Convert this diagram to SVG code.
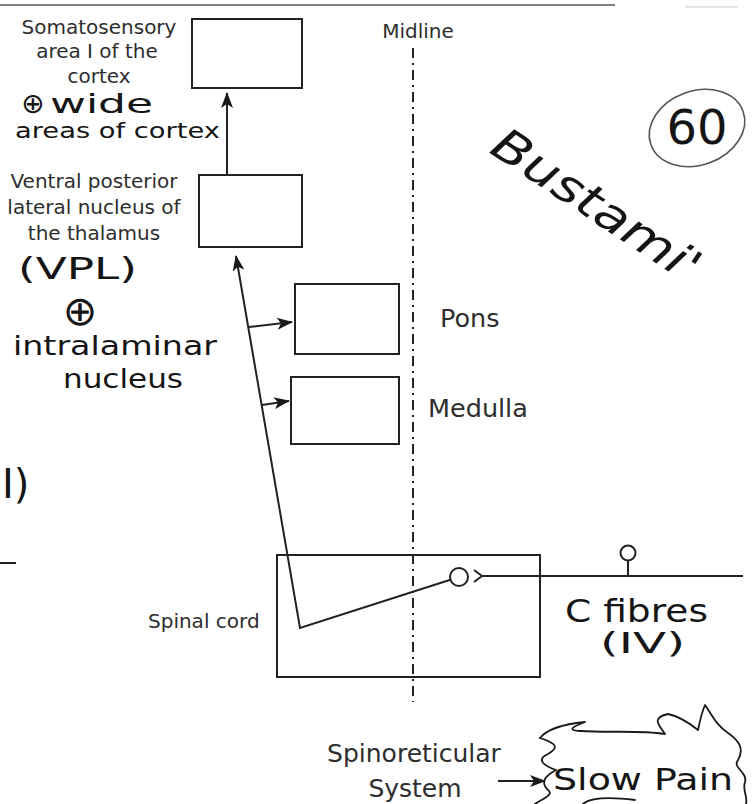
<svg xmlns="http://www.w3.org/2000/svg" width="755" height="804" viewBox="0 0 755 804">
<defs>
<style>
.box{fill:none;stroke:#222;stroke-width:2}
.ln{fill:none;stroke:#222;stroke-width:2}
.lbl{font-family:"DejaVu Sans","Liberation Sans",sans-serif;fill:#2e2e2e;font-size:20px}
.big{font-size:25.5px}
.sr{font-size:25px}
.hw{font-family:"DejaVu Sans","Liberation Sans",sans-serif;fill:#151515;font-weight:normal}
.hwl{fill:none;stroke:#1a1a1a;stroke-width:1.8;stroke-linecap:round;stroke-linejoin:round}
</style>
<marker id="ah" markerUnits="userSpaceOnUse" markerWidth="16" markerHeight="12" refX="15" refY="6" orient="auto">
<path d="M0,0 L16,6 L0,12 L4,6 z" fill="#1a1a1a"/>
</marker>
</defs>
<rect width="755" height="804" fill="#fff"/>

<!-- page edge lines -->
<line x1="0" y1="5" x2="615" y2="5" stroke="#555" stroke-width="1.6"/>
<line x1="685" y1="7" x2="738" y2="7" stroke="#ccc" stroke-width="1.2"/>
<line x1="0" y1="563" x2="16" y2="563" stroke="#222" stroke-width="2"/>

<!-- midline -->
<g id="midline">
<line x1="413" y1="48" x2="413" y2="702" stroke="#222" stroke-width="2" stroke-dasharray="10 5 2 5"/>
<text class="lbl" x="418" y="38" text-anchor="middle">Midline</text>
</g>

<g id="cortex">
<rect class="box" x="192" y="19" width="110" height="69"/>
<text class="lbl" text-anchor="middle"><tspan x="99" y="34">Somatosensory</tspan><tspan x="97" y="58">area I of the</tspan><tspan x="99" y="83">cortex</tspan></text>
</g>

<g id="vpl">
<rect class="box" x="199" y="175" width="103" height="72"/>
<text class="lbl" text-anchor="middle"><tspan x="94" y="188">Ventral posterior</tspan><tspan x="94" y="214">lateral nucleus of</tspan><tspan x="94" y="240">the thalamus</tspan></text>
</g>

<g id="pons">
<rect class="box" x="295" y="284" width="104" height="70"/>
<text class="lbl big" x="440" y="327">Pons</text>
</g>

<g id="medulla">
<rect class="box" x="291" y="377" width="108" height="67"/>
<text class="lbl big" x="428" y="417">Medulla</text>
</g>

<g id="spinalcord">
<rect class="box" x="277" y="555" width="263" height="122"/>
<text class="lbl" x="148" y="628">Spinal cord</text>
</g>

<g id="cfibre">
<circle cx="459" cy="577" r="9" fill="none" stroke="#222" stroke-width="2"/>
<path class="ln" d="M474,570 L482,576 L474,582"/>
<line class="ln" x1="482" y1="576" x2="743" y2="576"/>
<circle cx="628" cy="553" r="7.5" fill="none" stroke="#222" stroke-width="2"/>
<line class="ln" x1="628" y1="560.5" x2="628" y2="576"/>
</g>

<g id="connectors">
<line class="ln" x1="227" y1="175" x2="227" y2="93" marker-end="url(#ah)"/>
<polyline class="ln" points="450.4,579.7 300,628 236,256" marker-end="url(#ah)"/>
<line class="ln" x1="249" y1="327" x2="292" y2="322" marker-end="url(#ah)"/>
<line class="ln" x1="262" y1="405" x2="289" y2="401" marker-end="url(#ah)"/>
<line class="ln" x1="498" y1="781" x2="545" y2="781" marker-end="url(#ah)"/>
</g>

<g id="spinoreticular">
<text class="lbl sr" text-anchor="middle"><tspan x="414" y="762">Spinoreticular</tspan><tspan x="415" y="797">System</tspan></text>
</g>

<!-- handwritten notes -->
<g id="notes">
<text class="hw" y="113"><tspan x="21" font-size="28">⊕</tspan><tspan x="50" font-size="26" textLength="103" lengthAdjust="spacingAndGlyphs">wide</tspan></text>
<text class="hw" x="15" y="138" font-size="22" textLength="205" lengthAdjust="spacingAndGlyphs">areas of cortex</text>
<text class="hw" x="18" y="279" font-size="30" textLength="119" lengthAdjust="spacingAndGlyphs">(VPL)</text>
<text class="hw" x="80" y="325" font-size="41" text-anchor="middle">⊕</text>
<text class="hw" x="13" y="355" font-size="26" textLength="204" lengthAdjust="spacingAndGlyphs">intralaminar</text>
<text class="hw" x="63" y="388" font-size="26" textLength="120" lengthAdjust="spacingAndGlyphs">nucleus</text>
<text class="hw" x="2" y="498" font-size="40">I)</text>
<text class="hw" x="565" y="622" font-size="32" textLength="143" lengthAdjust="spacingAndGlyphs">C fibres</text>
<text class="hw" x="600" y="653" font-size="28" font-family="DejaVu Serif, serif" textLength="85" lengthAdjust="spacingAndGlyphs">(IV)</text>
<text class="hw" x="553" y="790" font-size="30" textLength="180" lengthAdjust="spacingAndGlyphs">Slow Pain</text>
<path class="hwl" d="M540,738 C548,728 565,724 585,722 C575,726 565,730 580,731 C610,733 640,730 665,734 C660,726 650,718 668,714 C678,716 688,722 698,730 C700,720 702,712 705,705 C712,715 716,725 728,733 C738,740 745,748 738,760 C732,768 748,772 745,782 C742,790 748,796 746,804"/>
<path class="hwl" d="M540,738 C552,742 562,746 548,754 C535,760 545,766 556,770 C545,776 540,782 548,790 C555,795 540,800 535,804"/>
<path class="hwl" d="M583,804 C590,798 610,797 635,800"/>
<ellipse cx="697" cy="128" rx="49" ry="37" transform="rotate(-20 697 128)" fill="none" stroke="#555" stroke-width="1.6"/>
<text class="hw" x="697" y="144" font-size="48" text-anchor="middle">60</text>
<text class="hw" transform="translate(488,152) rotate(33.5)" font-size="46" font-style="italic" textLength="240" lengthAdjust="spacingAndGlyphs">Bustami'</text>
</g>
</svg>
